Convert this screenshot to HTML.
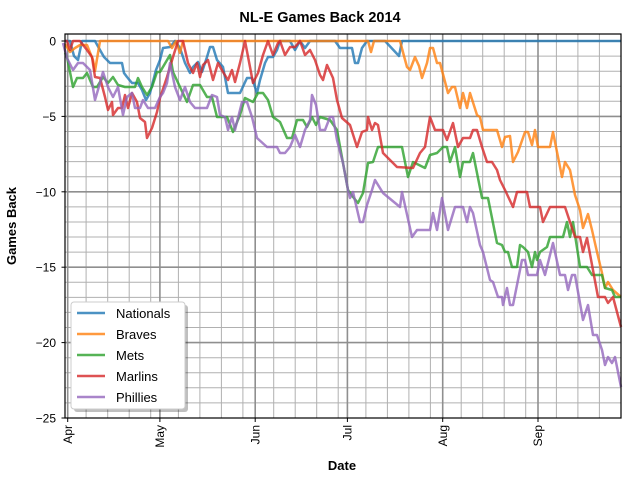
<!DOCTYPE html>
<html><head><meta charset="utf-8"><style>
html,body{margin:0;padding:0;background:#fff;}
svg{display:block;font-family:"Liberation Sans","DejaVu Sans",sans-serif;}
</style></head><body>
<svg width="640" height="480" viewBox="0 0 640 480" xmlns="http://www.w3.org/2000/svg">
<rect width="640" height="480" fill="#fff"/>
<g stroke="#b0b0b0" stroke-width="1">
<line x1="86.1" y1="34" x2="86.1" y2="418"/><line x1="107.7" y1="34" x2="107.7" y2="418"/><line x1="129.2" y1="34" x2="129.2" y2="418"/><line x1="150.7" y1="34" x2="150.7" y2="418"/>
<line x1="178.4" y1="34" x2="178.4" y2="418"/><line x1="199.9" y1="34" x2="199.9" y2="418"/><line x1="221.4" y1="34" x2="221.4" y2="418"/><line x1="242.9" y1="34" x2="242.9" y2="418"/>
<line x1="273.7" y1="34" x2="273.7" y2="418"/><line x1="295.2" y1="34" x2="295.2" y2="418"/><line x1="316.7" y1="34" x2="316.7" y2="418"/><line x1="338.2" y1="34" x2="338.2" y2="418"/>
<line x1="365.9" y1="34" x2="365.9" y2="418"/><line x1="387.4" y1="34" x2="387.4" y2="418"/><line x1="408.9" y1="34" x2="408.9" y2="418"/><line x1="430.4" y1="34" x2="430.4" y2="418"/>
<line x1="461.2" y1="34" x2="461.2" y2="418"/><line x1="482.7" y1="34" x2="482.7" y2="418"/><line x1="504.2" y1="34" x2="504.2" y2="418"/><line x1="525.7" y1="34" x2="525.7" y2="418"/>
<line x1="556.4" y1="34" x2="556.4" y2="418"/><line x1="577.9" y1="34" x2="577.9" y2="418"/><line x1="599.4" y1="34" x2="599.4" y2="418"/>
<line x1="65" y1="56.1" x2="621" y2="56.1"/><line x1="65" y1="71.2" x2="621" y2="71.2"/><line x1="65" y1="86.2" x2="621" y2="86.2"/><line x1="65" y1="101.3" x2="621" y2="101.3"/>
<line x1="65" y1="131.5" x2="621" y2="131.5"/><line x1="65" y1="146.6" x2="621" y2="146.6"/><line x1="65" y1="161.6" x2="621" y2="161.6"/><line x1="65" y1="176.7" x2="621" y2="176.7"/>
<line x1="65" y1="206.9" x2="621" y2="206.9"/><line x1="65" y1="222" x2="621" y2="222"/><line x1="65" y1="237" x2="621" y2="237"/><line x1="65" y1="252.1" x2="621" y2="252.1"/>
<line x1="65" y1="282.3" x2="621" y2="282.3"/><line x1="65" y1="297.4" x2="621" y2="297.4"/><line x1="65" y1="312.4" x2="621" y2="312.4"/><line x1="65" y1="327.5" x2="621" y2="327.5"/>
<line x1="65" y1="357.7" x2="621" y2="357.7"/><line x1="65" y1="372.8" x2="621" y2="372.8"/><line x1="65" y1="387.8" x2="621" y2="387.8"/><line x1="65" y1="402.9" x2="621" y2="402.9"/>
</g>
<g stroke="#8f8f8f" stroke-width="1.6">
<line x1="67.7" y1="34" x2="67.7" y2="418"/><line x1="159.9" y1="34" x2="159.9" y2="418"/><line x1="255.2" y1="34" x2="255.2" y2="418"/><line x1="347.4" y1="34" x2="347.4" y2="418"/><line x1="442.7" y1="34" x2="442.7" y2="418"/><line x1="538" y1="34" x2="538" y2="418"/>
<line x1="65" y1="41" x2="621" y2="41"/><line x1="65" y1="116.4" x2="621" y2="116.4"/><line x1="65" y1="191.8" x2="621" y2="191.8"/><line x1="65" y1="267.2" x2="621" y2="267.2"/><line x1="65" y1="342.6" x2="621" y2="342.6"/>
</g>
<g fill="none" stroke-width="2.5" stroke-linejoin="round" stroke-opacity="0.8">
<polyline stroke="#1f77b4" points="65,41 70,41 74,56 78,60 82,41 95,41 100,50 104,57 110,63 122,63 124,73 127,77 132,83 138,83 142,90 146,100 150,93 156,70 160,60 163,48 170,47 175,41 180,48 185,63 190,73 193,67 198,62 202,72 207,57 210,47 213,47 217,60 223,67 228,93 240,93 247,78 252,78 257,93 260,80 265,63 268,57 273,57 277,50 280,41 290,41 295,50 300,41 305,48 310,41 335,41 340,48 352,48 355,63 358,63 362,48 367,41 385,41 399,56 402,41 621,41"/>
<polyline stroke="#ff7f0e" points="65,44 70,52 75,48 80,45 87,45 93,60 95,71 100,41 168,41 172,48 176,41 180,53 183,41 368,41 371,52 374,41 400,41 404,56 407,67 410,70 415,57 419,66 422,78 427,63 430,48 433,48 437,63 440,63 444,78 448,93 452,87 455,87 460,108 463,93 467,108 470,93 477,115 480,117 483,130 497,130 502,147 505,137 510,136 513,162 518,152 525,132 528,132 532,145 535,130 538,147 550,147 553,132 562,177 565,162 570,170 575,195 580,210 583,228 588,214 592,230 597,252 602,273 605,288 608,282 613,290 621,297"/>
<polyline stroke="#2ca02c" points="65,53 67,57 73,87 77,78 83,78 87,73 93,87 97,87 103,77 108,83 113,77 118,85 125,87 135,87 138,78 142,87 147,95 152,87 157,72 160,72 170,55 173,72 180,87 187,102 193,85 200,85 207,97 212,97 217,117 227,117 233,132 240,115 245,98 253,102 258,93 263,93 268,100 273,117 280,122 287,138 292,138 297,120 303,120 307,127 312,117 316,125 320,117 330,120 337,130 343,163 348,190 353,197 358,203 363,193 368,163 373,162 378,147 402,147 408,177 413,162 425,168 430,155 437,153 443,147 447,147 450,162 455,147 460,177 463,162 470,162 473,153 482,198 488,198 497,243 502,245 505,252 508,252 512,267 517,267 520,245 523,247 528,252 532,267 535,252 537,260 540,252 547,247 550,237 563,237 567,222 570,237 573,222 580,267 587,267 592,275 602,275 605,288 612,290 615,297 621,297"/>
<polyline stroke="#d62728" points="65,41 67,41 70,50 73,41 80,41 87,50 92,57 95,77 100,78 105,97 108,110 112,102 113,115 118,108 122,108 125,95 128,108 132,93 137,102 140,118 145,122 147,138 152,128 157,112 160,98 167,77 173,57 178,41 183,41 188,63 193,73 197,63 200,77 203,65 208,60 213,80 218,63 223,72 228,80 232,70 235,82 240,63 245,41 250,67 253,83 258,73 263,55 268,41 273,55 278,43 280,41 285,55 290,47 295,47 300,41 305,55 310,50 315,60 320,75 323,80 327,65 333,78 337,100 342,118 350,125 357,147 362,132 367,130 368,117 372,130 375,123 378,125 383,153 397,167 413,168 420,153 425,147 430,117 435,130 443,130 447,140 453,123 458,147 463,138 470,138 473,130 477,130 482,147 487,162 492,162 497,170 500,180 505,190 513,207 517,192 527,192 530,207 540,207 543,222 550,207 565,207 570,222 575,237 580,237 583,252 587,238 598,297 605,297 608,303 613,297 621,327"/>
<polyline stroke="#9467bd" points="63,43 67,58 73,70 78,63 83,63 90,70 95,100 100,83 103,72 108,87 113,97 118,87 123,115 127,97 132,93 135,108 140,108 143,100 148,108 155,108 160,97 163,93 167,83 170,63 175,87 180,100 185,87 190,102 195,108 207,108 212,95 217,97 220,115 225,117 228,130 232,117 235,130 242,102 247,102 252,117 257,138 267,147 277,147 280,153 285,153 290,147 295,135 300,147 305,130 310,120 312,95 316,105 320,130 325,130 330,117 333,117 337,140 343,163 348,190 350,198 353,192 360,222 363,222 367,205 372,190 375,180 383,193 400,207 402,192 412,237 417,230 430,230 433,213 437,230 442,198 448,230 455,207 463,207 467,222 470,207 473,213 480,245 483,252 490,280 493,282 498,297 502,297 503,305 507,288 510,305 513,305 522,260 525,260 528,275 537,275 540,260 545,275 553,243 560,275 565,275 568,290 572,275 575,275 583,320 588,305 593,335 597,335 602,350 605,365 608,357 612,363 615,357 621,387"/>
</g>
<rect x="65" y="34" width="556" height="384" fill="none" stroke="#000" stroke-width="1.2"/>
<g stroke="#000" stroke-width="1">
<line x1="61.5" y1="41" x2="65" y2="41"/><line x1="61.5" y1="116.4" x2="65" y2="116.4"/><line x1="61.5" y1="191.8" x2="65" y2="191.8"/><line x1="61.5" y1="267.2" x2="65" y2="267.2"/><line x1="61.5" y1="342.6" x2="65" y2="342.6"/><line x1="61.5" y1="418" x2="65" y2="418"/>
<line x1="67.7" y1="418" x2="67.7" y2="422"/><line x1="159.9" y1="418" x2="159.9" y2="422"/><line x1="255.2" y1="418" x2="255.2" y2="422"/><line x1="347.4" y1="418" x2="347.4" y2="422"/><line x1="442.7" y1="418" x2="442.7" y2="422"/><line x1="538" y1="418" x2="538" y2="422"/>
</g>
<g font-size="12" text-anchor="end" fill="#000">
<text x="56" y="45.5">0</text><text x="56" y="120.9">−5</text><text x="56" y="196.3">−10</text><text x="56" y="271.7">−15</text><text x="56" y="347.1">−20</text><text x="56" y="422.5">−25</text>
</g>
<g font-size="12" text-anchor="end" fill="#000">
<text transform="translate(72,425) rotate(-90)">Apr</text>
<text transform="translate(164,425) rotate(-90)">May</text>
<text transform="translate(259.5,425) rotate(-90)">Jun</text>
<text transform="translate(351.5,425) rotate(-90)">Jul</text>
<text transform="translate(447,425) rotate(-90)">Aug</text>
<text transform="translate(542,425) rotate(-90)">Sep</text>
</g>
<text x="320" y="22" font-size="14.5" font-weight="bold" text-anchor="middle">NL-E Games Back 2014</text>
<text x="342" y="470" font-size="13" font-weight="bold" text-anchor="middle">Date</text>
<text transform="translate(16,226) rotate(-90)" font-size="13" font-weight="bold" text-anchor="middle">Games Back</text>
<rect x="74" y="305" width="114" height="107" rx="3" fill="#000" fill-opacity="0.25"/>
<rect x="71" y="302" width="114" height="107" rx="3" fill="#fff" stroke="#ccc" stroke-width="1"/>
<g stroke-width="2.5" stroke-opacity="0.8">
<line x1="77" y1="313" x2="105" y2="313" stroke="#1f77b4"/>
<line x1="77" y1="334" x2="105" y2="334" stroke="#ff7f0e"/>
<line x1="77" y1="355" x2="105" y2="355" stroke="#2ca02c"/>
<line x1="77" y1="376" x2="105" y2="376" stroke="#d62728"/>
<line x1="77" y1="397" x2="105" y2="397" stroke="#9467bd"/>
</g>
<g font-size="13" fill="#000">
<text x="116" y="318">Nationals</text><text x="116" y="339">Braves</text><text x="116" y="360">Mets</text><text x="116" y="381">Marlins</text><text x="116" y="402">Phillies</text>
</g>
</svg>
</body></html>
